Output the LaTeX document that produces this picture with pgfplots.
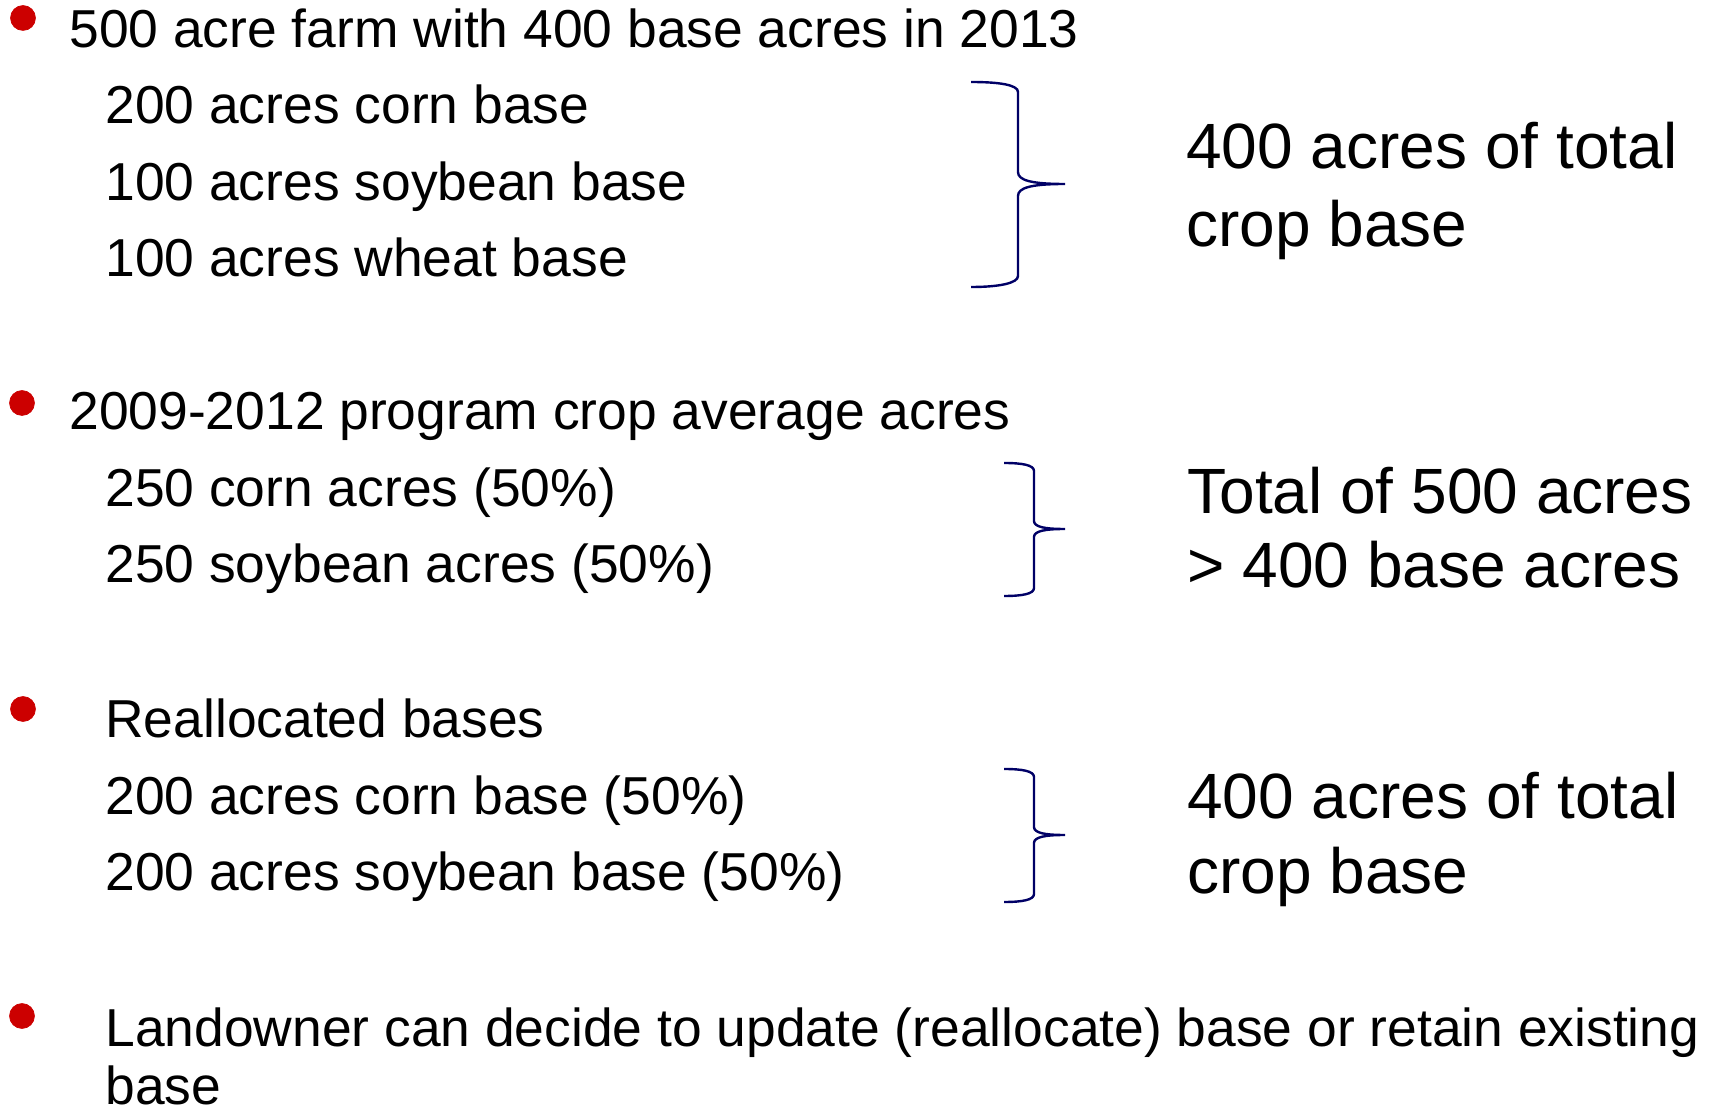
\documentclass[border=0pt]{standalone}
\usepackage{pgfplots}
\pgfplotsset{compat=1.18}
\usepackage{fontspec}
\setmainfont{Liberation Sans}
\definecolor{bulletred}{HTML}{CC0000}
\definecolor{bracenavy}{HTML}{000066}
\newcommand{\sm}{\fontsize{26.7}{30}\selectfont}
\newcommand{\bg}[1]{{\fontsize{32}{36}\selectfont #1}}
\begin{document}
\begin{tikzpicture}
\begin{axis}[
  width=854.5pt, height=555.5pt, scale only axis,
  xmin=0, xmax=1709, ymin=0, ymax=1111, y dir=reverse,
  axis lines=none, ticks=none, clip=false,
]
\path (axis cs:0,0) rectangle (axis cs:1709,1111);
% bullets
\addplot[only marks, mark=*, mark size=6.2pt, color=bulletred, mark options={draw=none, fill=bulletred}]
  coordinates {(23,18) (22,403) (23,709) (22,1016)};
% small text
\node[anchor=base west, inner sep=0] at (axis cs:69,48) {\sm 500 acre farm with 400 base acres in 2013};
\node[anchor=base west, inner sep=0] at (axis cs:105,124) {\sm 200 acres corn base};
\node[anchor=base west, inner sep=0] at (axis cs:105,201) {\sm 100 acres soybean base};
\node[anchor=base west, inner sep=0] at (axis cs:105,277) {\sm 100 acres wheat base};
\node[anchor=base west, inner sep=0] at (axis cs:69,430) {\sm 2009-2012 program crop average acres};
\node[anchor=base west, inner sep=0] at (axis cs:105,507) {\sm 250 corn acres (50\%)};
\node[anchor=base west, inner sep=0] at (axis cs:105,583) {\sm 250 soybean acres (50\%)};
\node[anchor=base west, inner sep=0] at (axis cs:105,738) {\sm Reallocated bases};
\node[anchor=base west, inner sep=0] at (axis cs:105,815) {\sm 200 acres corn base (50\%)};
\node[anchor=base west, inner sep=0] at (axis cs:105,891) {\sm 200 acres soybean base (50\%)};
\node[anchor=base west, inner sep=0] at (axis cs:105,1046) {\sm Landowner can decide to update (reallocate) base or retain existing};
\node[anchor=base west, inner sep=0] at (axis cs:105,1104) {\sm base};
% big text
\node[anchor=base west, inner sep=0] at (axis cs:1186,169) {\bg{400 acres of total}};
\node[anchor=base west, inner sep=0] at (axis cs:1186,247) {\bg{crop base}};
\node[anchor=base west, inner sep=0] at (axis cs:1187,514) {\bg{Total of 500 acres}};
\node[anchor=base west, inner sep=0] at (axis cs:1187,588) {\bg{> 400 base acres}};
\node[anchor=base west, inner sep=0] at (axis cs:1187,819) {\bg{400 acres of total}};
\node[anchor=base west, inner sep=0] at (axis cs:1187,894) {\bg{crop base}};
% braces
\draw[bracenavy, line width=1.2pt]
  (axis cs:971,82) .. controls (axis cs:1000,82) and (axis cs:1018,85) .. (axis cs:1018,92)
  -- (axis cs:1018,172) .. controls (axis cs:1018,180) and (axis cs:1030,184) .. (axis cs:1065,184)
  .. controls (axis cs:1030,184) and (axis cs:1018,188) .. (axis cs:1018,196)
  -- (axis cs:1018,276) .. controls (axis cs:1018,283) and (axis cs:1000,287) .. (axis cs:971,287);
\draw[bracenavy, line width=1.2pt]
  (axis cs:1004,463) .. controls (axis cs:1022,463) and (axis cs:1034,465) .. (axis cs:1034,471)
  -- (axis cs:1034,521) .. controls (axis cs:1034,527) and (axis cs:1045,529) .. (axis cs:1065,529)
  .. controls (axis cs:1045,529) and (axis cs:1034,531) .. (axis cs:1034,537)
  -- (axis cs:1034,588) .. controls (axis cs:1034,594) and (axis cs:1022,596) .. (axis cs:1004,596);
\draw[bracenavy, line width=1.2pt]
  (axis cs:1004,769) .. controls (axis cs:1022,769) and (axis cs:1034,771) .. (axis cs:1034,777)
  -- (axis cs:1034,827) .. controls (axis cs:1034,833) and (axis cs:1045,835) .. (axis cs:1065,835)
  .. controls (axis cs:1045,835) and (axis cs:1034,837) .. (axis cs:1034,843)
  -- (axis cs:1034,894) .. controls (axis cs:1034,900) and (axis cs:1022,902) .. (axis cs:1004,902);
\end{axis}
\end{tikzpicture}
\end{document}
